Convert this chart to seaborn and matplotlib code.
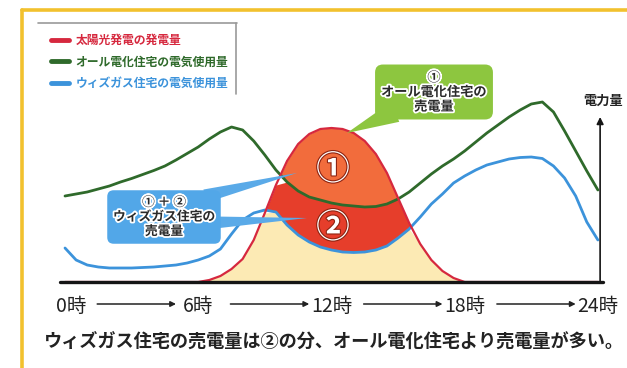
import numpy as np
import matplotlib
matplotlib.use("Agg")
import matplotlib.pyplot as plt
import matplotlib.patheffects as pe
import matplotlib.transforms as mtransforms
from matplotlib.lines import Line2D
import seaborn as sns

sns.set_theme(style="white")
## CJK font first, DejaVu as fallback
plt.rcParams['font.family'] = ['Noto Sans CJK JP', 'DejaVu Sans']

## Hours of the day (x) and power curves (arbitrary units)
hours = [0, 0.5, 1, 1.5, 2, 2.5, 3, 3.5, 4, 4.5, 5, 5.5, 6, 6.5, 7, 7.5, 8, 8.5,
         9, 9.5, 10, 10.5, 11, 11.5, 12, 12.5, 13, 13.5, 14, 14.5, 15, 15.5, 16,
         16.5, 17, 17.5, 18, 18.5, 19, 19.5, 20, 20.5, 21, 21.5, 22, 22.5, 23,
         23.5, 24]
solar = [0, 0, 0, 0, 0, 0, 0, 0, 0, 0, 0, 0, 0,
         0.2, 0.6, 1.3, 2.3, 4.2, 6.9, 9.7, 12.1, 13.8, 14.8, 15.3, 15.4, 15.3,
         14.9, 14.1, 12.8, 10.9, 8.4, 5.9, 3.8, 2.2, 1.1, 0.4,
         0, 0, 0, 0, 0, 0, 0, 0, 0, 0, 0, 0, 0]
all_electric = [8.6, 8.8, 9.0, 9.3, 9.6, 10.0, 10.35, 10.75, 11.15, 11.6, 12.2,
                12.85, 13.5, 14.3, 15.0, 15.5, 15.2, 14.1, 12.7, 11.2, 10.0, 9.1,
                8.5, 8.2, 7.9, 7.7, 7.6, 7.5, 7.55, 7.8, 8.3, 9.0, 9.9, 10.8,
                11.6, 12.3, 13.1, 14.0, 14.9, 15.7, 16.5, 17.2, 17.8, 18.0, 17.0,
                15.1, 13.1, 11.1, 9.2]
with_gas = [3.4, 2.2, 1.7, 1.5, 1.4, 1.4, 1.4, 1.45, 1.5, 1.6, 1.7, 1.9, 2.2,
            2.6, 3.3, 4.8, 6.2, 6.9, 7.2, 7.0, 5.7, 4.7, 4.0, 3.5, 3.2, 3.0,
            2.95, 3.0, 3.2, 3.6, 4.4, 5.3, 6.5, 7.8, 8.8, 9.9, 10.6, 11.2, 11.7,
            12.0, 12.3, 12.45, 12.5, 12.35, 11.6, 10.4, 8.6, 6.0, 4.2]

labels = ['太陽光発電の発電量', 'オール電化住宅の電気使用量', 'ウィズガス住宅の電気使用量']
tick_hours = [0, 6, 12, 18, 24]
tick_labels = ['0時', '6時', '12時', '18時', '24時']
caption = 'ウィズガス住宅の売電量は②の分、オール電化住宅より売電量が多い。'

c_red, c_green, c_blue = '#D6283E', '#2F6A2B', '#3C93DB'
c_beige, c_area2, c_area1 = '#FCEAB4', '#E63E2B', '#F26C3C'

h = np.array(hours)
s = np.array(solar)
g = np.array(all_electric)
b = np.array(with_gas)

fig = plt.figure(figsize=(6.27, 3.68), dpi=100)
ax = fig.add_axes([60 / 627, 86 / 368, 543 / 627, 242 / 368])

## filled areas: own use, (2) extra sold by gas home, (1) sold by both
ax.fill_between(h, 0, np.minimum(s, b), color=c_beige, lw=0, zorder=1)
ax.fill_between(h, b, np.minimum(s, g), where=s > b, interpolate=True,
                color=c_area2, lw=0, zorder=1.1)
ax.fill_between(h, g, s, where=s > g, interpolate=True,
                color=c_area1, lw=0, zorder=1.2)

sns.lineplot(x=hours, y=solar, ax=ax, color=c_red, lw=1.6, label=labels[0], zorder=2.2)
sns.lineplot(x=hours, y=all_electric, ax=ax, color=c_green, lw=2.0, label=labels[1], zorder=2.1)
sns.lineplot(x=hours, y=with_gas, ax=ax, color=c_blue, lw=2.0, label=labels[2], zorder=2.1)

ax.set_xlim(-0.225, 24.23)
ax.set_ylim(0, 24.2)
ax.set_yticks([])
ax.set_xticks(tick_hours)
ax.set_xticklabels(tick_labels, fontsize=14, color='#222222')
ax.tick_params(axis='x', length=0, pad=10)
ax.set_xlabel('')
ax.set_ylabel('')
for sp in ax.spines.values():
    sp.set_visible(False)
## first label sits a little to the right in the original
lab0 = ax.get_xticklabels()[0]
lab0.set_transform(lab0.get_transform() + mtransforms.ScaledTranslation(6 / 100, 0, fig.dpi_scale_trans))

## base line and vertical arrow
ax.axhline(0, color='#151515', lw=2.4, zorder=5, clip_on=False)
ax.annotate('', xy=(24.1, 16.5), xytext=(24.1, 0), annotation_clip=False,
            arrowprops=dict(arrowstyle='-|>', color='#151515', lw=1.2,
                            mutation_scale=10, shrinkA=0, shrinkB=0))
fig.text(603 / 627, 1 - 101 / 368, '電力量', ha='center', va='center',
         fontsize=9.5, fontweight='bold', color='#222222')

## arrows between hour labels
for t in tick_hours[:-1]:
    ax.annotate('', xy=(t + 5.0, 64), xytext=(t + 1.45, 64),
                xycoords=('data', 'figure pixels'), textcoords=('data', 'figure pixels'),
                annotation_clip=False,
                arrowprops=dict(arrowstyle='-|>', color='#222222', lw=1.1,
                                mutation_scale=8, shrinkA=0, shrinkB=0))

## legend
leg = ax.legend(loc='upper left', bbox_to_anchor=(45 / 627, 1 - 28 / 368),
                bbox_transform=fig.transFigure, frameon=False,
                prop=dict(weight='bold', size=8.5), labelcolor='linecolor',
                handlelength=1.5, handletextpad=0.6, labelspacing=0.72, borderpad=0)
for ln in leg.get_lines():
    ln.set_linewidth(3.5)
fig.add_artist(Line2D([38 / 627, 237 / 627], [1 - 23 / 368, 1 - 23 / 368],
                      color='#9a9a9a', lw=1.2, transform=fig.transFigure))
fig.add_artist(Line2D([236 / 627, 236 / 627], [1 - 23 / 368, 1 - 94 / 368],
                      color='#9a9a9a', lw=1.2, transform=fig.transFigure))

## callouts
halo = [pe.withStroke(linewidth=2.6, foreground='white')]
ax.annotate('', xy=(12.7, 14.9), xytext=(395, 368 - 112),
            textcoords='figure pixels', zorder=4,
            arrowprops=dict(arrowstyle='wedge,tail_width=1.1', fc='#8DC63F',
                            ec='none', mutation_scale=14, shrinkA=0, shrinkB=0))
ax.annotate('①\nオール電化住宅の\n売電量', xy=(12.7, 14.9), xytext=(434, 368 - 92),
            textcoords='figure pixels', ha='center', va='center', zorder=5,
            fontsize=9.5, fontweight='bold', color='#2a2a2a', linespacing=1.05,
            path_effects=halo,
            bbox=dict(boxstyle='round,pad=0.45,rounding_size=0.6', fc='#8DC63F', ec='none'))

for tip, start in [((10.45, 10.9), (205, 368 - 196)), ((10.9, 6.4), (205, 368 - 223))]:
    ax.annotate('', xy=tip, xytext=start, textcoords='figure pixels', zorder=4,
                arrowprops=dict(arrowstyle='wedge,tail_width=0.8', fc='#5AAAE8',
                                ec='none', mutation_scale=12, shrinkA=0, shrinkB=0))
ax.annotate('① ＋ ②\nウィズガス住宅の\n売電量', xy=(10.45, 10.9), xytext=(164, 368 - 217),
            textcoords='figure pixels', ha='center', va='center', zorder=5,
            fontsize=9.2, fontweight='bold', color='#2a2a2a', linespacing=1.15,
            path_effects=halo,
            bbox=dict(boxstyle='round,pad=0.45,rounding_size=0.5', fc='#52A7E8', ec='none'))

## big circled numbers inside the areas
ring = [pe.withStroke(linewidth=1.6, foreground='#8E2412')]
ax.text(12.07, 11.2, '①', ha='center', va='center', fontsize=24, color='white',
        fontweight='bold', path_effects=ring, zorder=3)
ax.text(12.07, 5.4, '②', ha='center', va='center', fontsize=24, color='white',
        fontweight='bold', path_effects=ring, zorder=3)

## caption
fig.text(334 / 627, 26 / 368, caption, ha='center', va='center', fontsize=13.1,
         fontweight='bold', color='#222222')

## yellow frame of the page
fig.add_artist(Line2D([22 / 627, 1], [1 - 10 / 368, 1 - 10 / 368],
                      color='#F2C12E', lw=2.6, transform=fig.transFigure))
fig.add_artist(Line2D([22 / 627, 22 / 627], [1 - 10 / 368, 0],
                      color='#F2C12E', lw=2.6, transform=fig.transFigure))

fig.savefig('out.png', dpi=100, facecolor='white')
